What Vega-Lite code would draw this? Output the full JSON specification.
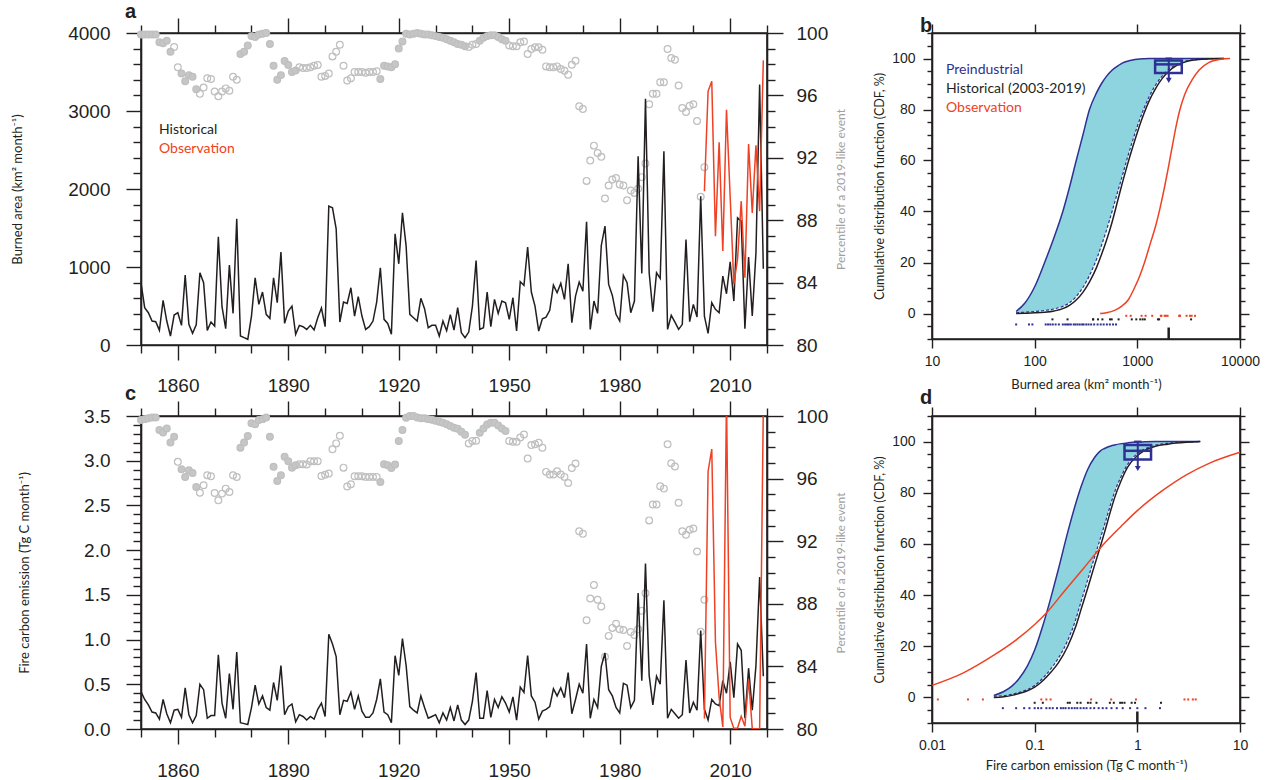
{
"$schema":"https://vega.github.io/schema/vega-lite/v6.json",
"padding":{"left":10,"top":1,"right":0,"bottom":0},
"background":"white",
"config":{
 "font":"Liberation Sans",
 "view":{"stroke":"#231f20","strokeWidth":1.6},
 "axis":{"domainColor":"#231f20","domainWidth":1.6,"tickColor":"#231f20","tickWidth":1.4,"labelColor":"#231f20","labelFont":"Liberation Sans","titleFont":"Lato","titleFontWeight":"normal","titleColor":"#231f20","grid":false,"labelFlush":false,"labelOverlap":false},
 "title":{"font":"Liberation Sans","fontWeight":"bold","fontSize":20,"color":"#231f20","anchor":"start","frame":"group"}
},
"datasets":{
"la":[
{"t":1850,"s":"H","v":798},{"t":1851,"s":"H","v":478},{"t":1852,"s":"H","v":414},{"t":1853,"s":"H","v":307},{"t":1854,"s":"H","v":299},{"t":1855,"s":"H","v":188},{"t":1856,"s":"H","v":572},{"t":1857,"s":"H","v":307},{"t":1858,"s":"H","v":115},{"t":1859,"s":"H","v":384},
{"t":1860,"s":"H","v":414},{"t":1861,"s":"H","v":252},{"t":1862,"s":"H","v":896},{"t":1863,"s":"H","v":265},{"t":1864,"s":"H","v":149},{"t":1865,"s":"H","v":260},{"t":1866,"s":"H","v":926},{"t":1867,"s":"H","v":798},{"t":1868,"s":"H","v":188},{"t":1869,"s":"H","v":294},
{"t":1870,"s":"H","v":243},{"t":1871,"s":"H","v":1387},{"t":1872,"s":"H","v":491},{"t":1873,"s":"H","v":209},{"t":1874,"s":"H","v":1024},{"t":1875,"s":"H","v":405},{"t":1876,"s":"H","v":1618},{"t":1877,"s":"H","v":115},{"t":1878,"s":"H","v":94},{"t":1879,"s":"H","v":73},
{"t":1880,"s":"H","v":371},{"t":1881,"s":"H","v":862},{"t":1882,"s":"H","v":521},{"t":1883,"s":"H","v":679},{"t":1884,"s":"H","v":393},{"t":1885,"s":"H","v":341},{"t":1886,"s":"H","v":862},{"t":1887,"s":"H","v":542},{"t":1888,"s":"H","v":1191},{"t":1889,"s":"H","v":277},
{"t":1890,"s":"H","v":435},{"t":1891,"s":"H","v":499},{"t":1892,"s":"H","v":137},{"t":1893,"s":"H","v":252},{"t":1894,"s":"H","v":235},{"t":1895,"s":"H","v":200},{"t":1896,"s":"H","v":252},{"t":1897,"s":"H","v":192},{"t":1898,"s":"H","v":350},{"t":1899,"s":"H","v":474},
{"t":1900,"s":"H","v":235},{"t":1901,"s":"H","v":1780},{"t":1902,"s":"H","v":1758},{"t":1903,"s":"H","v":1490},{"t":1904,"s":"H","v":294},{"t":1905,"s":"H","v":550},{"t":1906,"s":"H","v":533},{"t":1907,"s":"H","v":734},{"t":1908,"s":"H","v":371},{"t":1909,"s":"H","v":619},
{"t":1910,"s":"H","v":371},{"t":1911,"s":"H","v":200},{"t":1912,"s":"H","v":235},{"t":1913,"s":"H","v":307},{"t":1914,"s":"H","v":550},{"t":1915,"s":"H","v":990},{"t":1916,"s":"H","v":329},{"t":1917,"s":"H","v":277},{"t":1918,"s":"H","v":137},{"t":1919,"s":"H","v":1425},
{"t":1920,"s":"H","v":1041},{"t":1921,"s":"H","v":1694},{"t":1922,"s":"H","v":1268},{"t":1923,"s":"H","v":393},{"t":1924,"s":"H","v":350},{"t":1925,"s":"H","v":307},{"t":1926,"s":"H","v":598},{"t":1927,"s":"H","v":465},{"t":1928,"s":"H","v":222},{"t":1929,"s":"H","v":252},
{"t":1930,"s":"H","v":252},{"t":1931,"s":"H","v":115},{"t":1932,"s":"H","v":307},{"t":1933,"s":"H","v":183},{"t":1934,"s":"H","v":390},{"t":1935,"s":"H","v":192},{"t":1936,"s":"H","v":478},{"t":1937,"s":"H","v":158},{"t":1938,"s":"H","v":94},{"t":1939,"s":"H","v":166},
{"t":1940,"s":"H","v":499},{"t":1941,"s":"H","v":1084},{"t":1942,"s":"H","v":200},{"t":1943,"s":"H","v":222},{"t":1944,"s":"H","v":679},{"t":1945,"s":"H","v":235},{"t":1946,"s":"H","v":585},{"t":1947,"s":"H","v":405},{"t":1948,"s":"H","v":563},{"t":1949,"s":"H","v":542},
{"t":1950,"s":"H","v":329},{"t":1951,"s":"H","v":606},{"t":1952,"s":"H","v":179},{"t":1953,"s":"H","v":811},{"t":1954,"s":"H","v":764},{"t":1955,"s":"H","v":1255},{"t":1956,"s":"H","v":679},{"t":1957,"s":"H","v":499},{"t":1958,"s":"H","v":179},{"t":1959,"s":"H","v":337},
{"t":1960,"s":"H","v":358},{"t":1961,"s":"H","v":444},{"t":1962,"s":"H","v":768},{"t":1963,"s":"H","v":670},{"t":1964,"s":"H","v":790},{"t":1965,"s":"H","v":585},{"t":1966,"s":"H","v":1041},{"t":1967,"s":"H","v":286},{"t":1968,"s":"H","v":627},{"t":1969,"s":"H","v":807},
{"t":1970,"s":"H","v":691},{"t":1971,"s":"H","v":1579},{"t":1972,"s":"H","v":200},{"t":1973,"s":"H","v":563},{"t":1974,"s":"H","v":405},{"t":1975,"s":"H","v":1276},{"t":1976,"s":"H","v":1524},{"t":1977,"s":"H","v":777},{"t":1978,"s":"H","v":636},{"t":1979,"s":"H","v":393},
{"t":1980,"s":"H","v":307},{"t":1981,"s":"H","v":892},{"t":1982,"s":"H","v":798},{"t":1983,"s":"H","v":414},{"t":1984,"s":"H","v":563},{"t":1985,"s":"H","v":2420},{"t":1986,"s":"H","v":918},{"t":1987,"s":"H","v":3158},{"t":1988,"s":"H","v":926},{"t":1989,"s":"H","v":427},
{"t":1990,"s":"H","v":926},{"t":1991,"s":"H","v":854},{"t":1992,"s":"H","v":2484},{"t":1993,"s":"H","v":200},{"t":1994,"s":"H","v":380},{"t":1995,"s":"H","v":294},{"t":1996,"s":"H","v":200},{"t":1997,"s":"H","v":265},{"t":1998,"s":"H","v":1353},{"t":1999,"s":"H","v":299},
{"t":2000,"s":"H","v":521},{"t":2001,"s":"H","v":358},{"t":2002,"s":"H","v":1908},{"t":2003,"s":"H","v":371},{"t":2004,"s":"H","v":149},{"t":2005,"s":"H","v":542},{"t":2006,"s":"H","v":457},{"t":2007,"s":"H","v":414},{"t":2008,"s":"H","v":883},{"t":2009,"s":"H","v":657},
{"t":2010,"s":"H","v":1067},{"t":2011,"s":"H","v":563},{"t":2012,"s":"H","v":1630},{"t":2013,"s":"H","v":1588},{"t":2014,"s":"H","v":209},{"t":2015,"s":"H","v":1127},{"t":2016,"s":"H","v":371},{"t":2017,"s":"H","v":1182},{"t":2018,"s":"H","v":3338},{"t":2019,"s":"H","v":977},
{"t":2003,"s":"O","v":1972},{"t":2004,"s":"O","v":3252},{"t":2005,"s":"O","v":3380},{"t":2006,"s":"O","v":1396},{"t":2007,"s":"O","v":2599},{"t":2008,"s":"O","v":1204},{"t":2009,"s":"O","v":3017},{"t":2010,"s":"O","v":1900},{"t":2011,"s":"O","v":780},{"t":2012,"s":"O","v":1100},{"t":2013,"s":"O","v":1844},{"t":2014,"s":"O","v":862},{"t":2015,"s":"O","v":2578},{"t":2016,"s":"O","v":1694},{"t":2017,"s":"O","v":2561},{"t":2018,"s":"O","v":1716},{"t":2019,"s":"O","v":3649}
],
"pa":[
{"t":1850,"p":99.9,"f":1},{"t":1851,"p":99.9,"f":1},{"t":1852,"p":99.9,"f":1},{"t":1853,"p":99.9,"f":1},{"t":1854,"p":99.9,"f":1},{"t":1855,"p":99.4,"f":1},{"t":1856,"p":99.35,"f":1},{"t":1857,"p":99.5,"f":1},{"t":1858,"p":98.8,"f":1},{"t":1859,"p":99.1,"f":0},
{"t":1860,"p":97.8,"f":0},{"t":1861,"p":97.4,"f":1},{"t":1862,"p":96.9,"f":1},{"t":1863,"p":97.3,"f":1},{"t":1864,"p":97.2,"f":1},{"t":1865,"p":96.4,"f":1},{"t":1866,"p":96.1,"f":0},{"t":1867,"p":96.5,"f":0},{"t":1868,"p":97.1,"f":0},{"t":1869,"p":97.05,"f":0},
{"t":1870,"p":96.25,"f":0},{"t":1871,"p":95.95,"f":0},{"t":1872,"p":96.25,"f":0},{"t":1873,"p":96.45,"f":0},{"t":1874,"p":96.3,"f":0},{"t":1875,"p":97.2,"f":0},{"t":1876,"p":97.0,"f":0},{"t":1877,"p":98.65,"f":1},{"t":1878,"p":98.8,"f":1},{"t":1879,"p":99.2,"f":1},
{"t":1880,"p":99.8,"f":1},{"t":1881,"p":99.75,"f":1},{"t":1882,"p":99.9,"f":1},{"t":1883,"p":99.95,"f":1},{"t":1884,"p":100,"f":1},{"t":1885,"p":99.3,"f":1},{"t":1886,"p":97.9,"f":1},{"t":1887,"p":97.0,"f":1},{"t":1888,"p":97.3,"f":1},{"t":1889,"p":98.2,"f":1},
{"t":1890,"p":97.95,"f":1},{"t":1891,"p":97.5,"f":1},{"t":1892,"p":97.6,"f":1},{"t":1893,"p":97.8,"f":0},{"t":1894,"p":97.75,"f":0},{"t":1895,"p":97.75,"f":0},{"t":1896,"p":97.8,"f":0},{"t":1897,"p":97.9,"f":0},{"t":1898,"p":97.95,"f":0},{"t":1899,"p":97.2,"f":0},
{"t":1900,"p":97.25,"f":0},{"t":1901,"p":97.4,"f":0},{"t":1902,"p":98.5,"f":0},{"t":1903,"p":98.8,"f":0},{"t":1904,"p":99.25,"f":0},{"t":1905,"p":97.9,"f":0},{"t":1906,"p":96.95,"f":0},{"t":1907,"p":97.1,"f":0},{"t":1908,"p":97.5,"f":0},{"t":1909,"p":97.5,"f":0},
{"t":1910,"p":97.5,"f":0},{"t":1911,"p":97.45,"f":0},{"t":1912,"p":97.5,"f":0},{"t":1913,"p":97.5,"f":0},{"t":1914,"p":97.55,"f":0},{"t":1915,"p":97.05,"f":1},{"t":1916,"p":97.9,"f":1},{"t":1917,"p":97.85,"f":1},{"t":1918,"p":97.8,"f":1},{"t":1919,"p":98.0,"f":1},
{"t":1920,"p":99.0,"f":1},{"t":1921,"p":99.45,"f":1},{"t":1922,"p":99.95,"f":1},{"t":1923,"p":99.9,"f":1},{"t":1924,"p":99.95,"f":1},{"t":1925,"p":100,"f":1},{"t":1926,"p":99.95,"f":1},{"t":1927,"p":99.9,"f":1},{"t":1928,"p":99.9,"f":1},{"t":1929,"p":99.85,"f":1},
{"t":1930,"p":99.8,"f":1},{"t":1931,"p":99.75,"f":1},{"t":1932,"p":99.7,"f":1},{"t":1933,"p":99.6,"f":1},{"t":1934,"p":99.5,"f":1},{"t":1935,"p":99.4,"f":1},{"t":1936,"p":99.3,"f":1},{"t":1937,"p":99.25,"f":1},{"t":1938,"p":99.15,"f":1},{"t":1939,"p":99.1,"f":0},
{"t":1940,"p":99.25,"f":0},{"t":1941,"p":99.3,"f":0},{"t":1942,"p":99.5,"f":1},{"t":1943,"p":99.7,"f":1},{"t":1944,"p":99.8,"f":1},{"t":1945,"p":99.85,"f":1},{"t":1946,"p":99.85,"f":1},{"t":1947,"p":99.75,"f":1},{"t":1948,"p":99.6,"f":1},{"t":1949,"p":99.5,"f":1},
{"t":1950,"p":99.2,"f":0},{"t":1951,"p":99.15,"f":0},{"t":1952,"p":99.15,"f":0},{"t":1953,"p":99.4,"f":0},{"t":1954,"p":99.45,"f":0},{"t":1955,"p":98.65,"f":0},{"t":1956,"p":98.97,"f":0},{"t":1957,"p":99.08,"f":0},{"t":1958,"p":99.08,"f":0},{"t":1959,"p":98.93,"f":0},
{"t":1960,"p":97.86,"f":0},{"t":1961,"p":97.8,"f":0},{"t":1962,"p":97.8,"f":0},{"t":1963,"p":97.86,"f":0},{"t":1964,"p":97.69,"f":0},{"t":1965,"p":97.58,"f":0},{"t":1966,"p":97.33,"f":0},{"t":1967,"p":97.97,"f":0},{"t":1968,"p":98.22,"f":0},{"t":1969,"p":95.3,"f":0},
{"t":1970,"p":95.13,"f":0},{"t":1971,"p":90.52,"f":0},{"t":1972,"p":91.82,"f":0},{"t":1973,"p":92.78,"f":0},{"t":1974,"p":92.31,"f":0},{"t":1975,"p":92.06,"f":0},{"t":1976,"p":89.39,"f":0},{"t":1977,"p":90.22,"f":0},{"t":1978,"p":90.61,"f":0},{"t":1979,"p":90.71,"f":0},
{"t":1980,"p":90.29,"f":0},{"t":1981,"p":90.22,"f":0},{"t":1982,"p":89.28,"f":0},{"t":1983,"p":89.9,"f":0},{"t":1984,"p":89.75,"f":0},{"t":1985,"p":90.01,"f":0},{"t":1986,"p":90.76,"f":0},{"t":1987,"p":91.63,"f":0},{"t":1988,"p":95.43,"f":0},{"t":1989,"p":96.11,"f":0},
{"t":1990,"p":96.11,"f":0},{"t":1991,"p":96.84,"f":0},{"t":1992,"p":96.84,"f":0},{"t":1993,"p":98.97,"f":0},{"t":1994,"p":98.39,"f":0},{"t":1995,"p":98.29,"f":0},{"t":1996,"p":96.64,"f":0},{"t":1997,"p":95.19,"f":0},{"t":1998,"p":94.94,"f":0},{"t":1999,"p":95.34,"f":0},
{"t":2000,"p":95.43,"f":0},{"t":2001,"p":94.36,"f":0},{"t":2002,"p":89.5,"f":0},{"t":2003,"p":91.4,"f":0}
],
"lc":[
{"t":1850,"s":"H","v":0.42},{"t":1851,"s":"H","v":0.33},{"t":1852,"s":"H","v":0.27},{"t":1853,"s":"H","v":0.19},{"t":1854,"s":"H","v":0.18},{"t":1855,"s":"H","v":0.11},{"t":1856,"s":"H","v":0.33},{"t":1857,"s":"H","v":0.17},{"t":1858,"s":"H","v":0.07},{"t":1859,"s":"H","v":0.21},
{"t":1860,"s":"H","v":0.22},{"t":1861,"s":"H","v":0.13},{"t":1862,"s":"H","v":0.46},{"t":1863,"s":"H","v":0.16},{"t":1864,"s":"H","v":0.07},{"t":1865,"s":"H","v":0.15},{"t":1866,"s":"H","v":0.50},{"t":1867,"s":"H","v":0.44},{"t":1868,"s":"H","v":0.12},{"t":1869,"s":"H","v":0.15},
{"t":1870,"s":"H","v":0.15},{"t":1871,"s":"H","v":0.83},{"t":1872,"s":"H","v":0.29},{"t":1873,"s":"H","v":0.12},{"t":1874,"s":"H","v":0.62},{"t":1875,"s":"H","v":0.22},{"t":1876,"s":"H","v":0.86},{"t":1877,"s":"H","v":0.07},{"t":1878,"s":"H","v":0.06},{"t":1879,"s":"H","v":0.05},
{"t":1880,"s":"H","v":0.24},{"t":1881,"s":"H","v":0.49},{"t":1882,"s":"H","v":0.28},{"t":1883,"s":"H","v":0.37},{"t":1884,"s":"H","v":0.24},{"t":1885,"s":"H","v":0.21},{"t":1886,"s":"H","v":0.52},{"t":1887,"s":"H","v":0.32},{"t":1888,"s":"H","v":0.71},{"t":1889,"s":"H","v":0.16},
{"t":1890,"s":"H","v":0.25},{"t":1891,"s":"H","v":0.28},{"t":1892,"s":"H","v":0.08},{"t":1893,"s":"H","v":0.16},{"t":1894,"s":"H","v":0.14},{"t":1895,"s":"H","v":0.10},{"t":1896,"s":"H","v":0.14},{"t":1897,"s":"H","v":0.11},{"t":1898,"s":"H","v":0.22},{"t":1899,"s":"H","v":0.29},
{"t":1900,"s":"H","v":0.14},{"t":1901,"s":"H","v":1.06},{"t":1902,"s":"H","v":0.95},{"t":1903,"s":"H","v":0.81},{"t":1904,"s":"H","v":0.16},{"t":1905,"s":"H","v":0.32},{"t":1906,"s":"H","v":0.31},{"t":1907,"s":"H","v":0.41},{"t":1908,"s":"H","v":0.22},{"t":1909,"s":"H","v":0.37},
{"t":1910,"s":"H","v":0.20},{"t":1911,"s":"H","v":0.13},{"t":1912,"s":"H","v":0.13},{"t":1913,"s":"H","v":0.18},{"t":1914,"s":"H","v":0.33},{"t":1915,"s":"H","v":0.56},{"t":1916,"s":"H","v":0.19},{"t":1917,"s":"H","v":0.16},{"t":1918,"s":"H","v":0.07},{"t":1919,"s":"H","v":0.82},
{"t":1920,"s":"H","v":0.60},{"t":1921,"s":"H","v":1.01},{"t":1922,"s":"H","v":0.71},{"t":1923,"s":"H","v":0.25},{"t":1924,"s":"H","v":0.21},{"t":1925,"s":"H","v":0.18},{"t":1926,"s":"H","v":0.37},{"t":1927,"s":"H","v":0.24},{"t":1928,"s":"H","v":0.12},{"t":1929,"s":"H","v":0.14},
{"t":1930,"s":"H","v":0.16},{"t":1931,"s":"H","v":0.07},{"t":1932,"s":"H","v":0.18},{"t":1933,"s":"H","v":0.10},{"t":1934,"s":"H","v":0.24},{"t":1935,"s":"H","v":0.09},{"t":1936,"s":"H","v":0.27},{"t":1937,"s":"H","v":0.10},{"t":1938,"s":"H","v":0.05},{"t":1939,"s":"H","v":0.10},
{"t":1940,"s":"H","v":0.31},{"t":1941,"s":"H","v":0.63},{"t":1942,"s":"H","v":0.12},{"t":1943,"s":"H","v":0.12},{"t":1944,"s":"H","v":0.43},{"t":1945,"s":"H","v":0.13},{"t":1946,"s":"H","v":0.33},{"t":1947,"s":"H","v":0.24},{"t":1948,"s":"H","v":0.36},{"t":1949,"s":"H","v":0.29},
{"t":1950,"s":"H","v":0.19},{"t":1951,"s":"H","v":0.36},{"t":1952,"s":"H","v":0.10},{"t":1953,"s":"H","v":0.47},{"t":1954,"s":"H","v":0.41},{"t":1955,"s":"H","v":0.82},{"t":1956,"s":"H","v":0.37},{"t":1957,"s":"H","v":0.30},{"t":1958,"s":"H","v":0.11},{"t":1959,"s":"H","v":0.20},
{"t":1960,"s":"H","v":0.22},{"t":1961,"s":"H","v":0.25},{"t":1962,"s":"H","v":0.45},{"t":1963,"s":"H","v":0.37},{"t":1964,"s":"H","v":0.46},{"t":1965,"s":"H","v":0.35},{"t":1966,"s":"H","v":0.63},{"t":1967,"s":"H","v":0.17},{"t":1968,"s":"H","v":0.33},{"t":1969,"s":"H","v":0.50},
{"t":1970,"s":"H","v":0.40},{"t":1971,"s":"H","v":0.95},{"t":1972,"s":"H","v":0.12},{"t":1973,"s":"H","v":0.33},{"t":1974,"s":"H","v":0.24},{"t":1975,"s":"H","v":0.70},{"t":1976,"s":"H","v":0.85},{"t":1977,"s":"H","v":0.44},{"t":1978,"s":"H","v":0.37},{"t":1979,"s":"H","v":0.24},
{"t":1980,"s":"H","v":0.18},{"t":1981,"s":"H","v":0.51},{"t":1982,"s":"H","v":0.49},{"t":1983,"s":"H","v":0.24},{"t":1984,"s":"H","v":0.32},{"t":1985,"s":"H","v":1.52},{"t":1986,"s":"H","v":0.54},{"t":1987,"s":"H","v":1.85},{"t":1988,"s":"H","v":0.60},{"t":1989,"s":"H","v":0.27},
{"t":1990,"s":"H","v":0.59},{"t":1991,"s":"H","v":0.50},{"t":1992,"s":"H","v":1.44},{"t":1993,"s":"H","v":0.12},{"t":1994,"s":"H","v":0.22},{"t":1995,"s":"H","v":0.17},{"t":1996,"s":"H","v":0.12},{"t":1997,"s":"H","v":0.16},{"t":1998,"s":"H","v":0.77},{"t":1999,"s":"H","v":0.18},
{"t":2000,"s":"H","v":0.30},{"t":2001,"s":"H","v":0.21},{"t":2002,"s":"H","v":1.10},{"t":2003,"s":"H","v":0.22},{"t":2004,"s":"H","v":0.10},{"t":2005,"s":"H","v":0.33},{"t":2006,"s":"H","v":0.28},{"t":2007,"s":"H","v":0.26},{"t":2008,"s":"H","v":0.54},{"t":2009,"s":"H","v":0.40},
{"t":2010,"s":"H","v":0.75},{"t":2011,"s":"H","v":0.35},{"t":2012,"s":"H","v":0.95},{"t":2013,"s":"H","v":0.88},{"t":2014,"s":"H","v":0.12},{"t":2015,"s":"H","v":0.68},{"t":2016,"s":"H","v":0.21},{"t":2017,"s":"H","v":0.71},{"t":2018,"s":"H","v":1.70},{"t":2019,"s":"H","v":0.59},
{"t":2003,"s":"O","v":0.116},{"t":2004,"s":"O","v":2.88},{"t":2005,"s":"O","v":3.13},{"t":2006,"s":"O","v":0.97},{"t":2007,"s":"O","v":0.355},{"t":2008,"s":"O","v":0.0224},{"t":2009,"s":"O","v":3.7},{"t":2010,"s":"O","v":0.13},{"t":2011,"s":"O","v":0.005},{"t":2012,"s":"O","v":0.0114},{"t":2013,"s":"O","v":0.143},{"t":2014,"s":"O","v":0.0313},{"t":2015,"s":"O","v":0.556},{"t":2016,"s":"O","v":0.005},{"t":2017,"s":"O","v":0.004},{"t":2018,"s":"O","v":0.006},{"t":2019,"s":"O","v":3.6}
],
"pc":[
{"t":1850,"p":99.74,"f":1},{"t":1851,"p":99.8,"f":1},{"t":1852,"p":99.85,"f":1},{"t":1853,"p":99.9,"f":1},{"t":1854,"p":99.9,"f":1},{"t":1855,"p":99.1,"f":1},{"t":1856,"p":98.95,"f":1},{"t":1857,"p":99.2,"f":1},{"t":1858,"p":98.3,"f":1},{"t":1859,"p":98.67,"f":1},
{"t":1860,"p":97.07,"f":0},{"t":1861,"p":96.6,"f":1},{"t":1862,"p":96.1,"f":1},{"t":1863,"p":96.53,"f":1},{"t":1864,"p":96.36,"f":1},{"t":1865,"p":95.46,"f":1},{"t":1866,"p":95.1,"f":0},{"t":1867,"p":95.57,"f":0},{"t":1868,"p":96.21,"f":0},{"t":1869,"p":96.15,"f":0},
{"t":1870,"p":95.08,"f":0},{"t":1871,"p":94.61,"f":0},{"t":1872,"p":95.04,"f":0},{"t":1873,"p":95.36,"f":0},{"t":1874,"p":95.14,"f":0},{"t":1875,"p":96.21,"f":0},{"t":1876,"p":96.1,"f":0},{"t":1877,"p":97.97,"f":1},{"t":1878,"p":98.31,"f":1},{"t":1879,"p":98.72,"f":1},
{"t":1880,"p":99.53,"f":1},{"t":1881,"p":99.47,"f":1},{"t":1882,"p":99.74,"f":1},{"t":1883,"p":99.8,"f":1},{"t":1884,"p":99.9,"f":1},{"t":1885,"p":98.67,"f":1},{"t":1886,"p":96.75,"f":1},{"t":1887,"p":95.85,"f":1},{"t":1888,"p":96.21,"f":1},{"t":1889,"p":97.39,"f":1},
{"t":1890,"p":97.11,"f":1},{"t":1891,"p":96.7,"f":1},{"t":1892,"p":96.86,"f":1},{"t":1893,"p":96.92,"f":0},{"t":1894,"p":96.92,"f":0},{"t":1895,"p":96.9,"f":0},{"t":1896,"p":97.11,"f":0},{"t":1897,"p":97.11,"f":0},{"t":1898,"p":97.11,"f":0},{"t":1899,"p":96.17,"f":0},
{"t":1900,"p":96.25,"f":0},{"t":1901,"p":96.32,"f":0},{"t":1902,"p":97.88,"f":0},{"t":1903,"p":98.25,"f":0},{"t":1904,"p":98.74,"f":0},{"t":1905,"p":96.7,"f":0},{"t":1906,"p":95.5,"f":0},{"t":1907,"p":95.64,"f":0},{"t":1908,"p":96.15,"f":0},{"t":1909,"p":96.15,"f":0},
{"t":1910,"p":96.15,"f":0},{"t":1911,"p":96.11,"f":0},{"t":1912,"p":96.11,"f":0},{"t":1913,"p":96.11,"f":0},{"t":1914,"p":96.11,"f":0},{"t":1915,"p":95.79,"f":1},{"t":1916,"p":96.92,"f":1},{"t":1917,"p":96.86,"f":1},{"t":1918,"p":96.68,"f":1},{"t":1919,"p":96.9,"f":1},
{"t":1920,"p":98.4,"f":1},{"t":1921,"p":99.1,"f":1},{"t":1922,"p":99.89,"f":1},{"t":1923,"p":100,"f":1},{"t":1924,"p":100,"f":1},{"t":1925,"p":99.9,"f":1},{"t":1926,"p":99.85,"f":1},{"t":1927,"p":99.85,"f":1},{"t":1928,"p":99.8,"f":1},{"t":1929,"p":99.76,"f":1},
{"t":1930,"p":99.7,"f":1},{"t":1931,"p":99.64,"f":1},{"t":1932,"p":99.57,"f":1},{"t":1933,"p":99.47,"f":1},{"t":1934,"p":99.36,"f":1},{"t":1935,"p":99.25,"f":1},{"t":1936,"p":99.19,"f":1},{"t":1937,"p":99.0,"f":1},{"t":1938,"p":98.8,"f":1},{"t":1939,"p":98.25,"f":0},
{"t":1940,"p":98.4,"f":0},{"t":1941,"p":98.42,"f":0},{"t":1942,"p":98.93,"f":1},{"t":1943,"p":99.2,"f":1},{"t":1944,"p":99.45,"f":1},{"t":1945,"p":99.57,"f":1},{"t":1946,"p":99.57,"f":1},{"t":1947,"p":99.4,"f":1},{"t":1948,"p":99.2,"f":1},{"t":1949,"p":99.04,"f":1},
{"t":1950,"p":98.4,"f":0},{"t":1951,"p":98.35,"f":0},{"t":1952,"p":98.35,"f":0},{"t":1953,"p":98.63,"f":0},{"t":1954,"p":98.82,"f":0},{"t":1955,"p":97.28,"f":0},{"t":1956,"p":98.14,"f":0},{"t":1957,"p":98.2,"f":0},{"t":1958,"p":98.29,"f":0},{"t":1959,"p":97.97,"f":0},
{"t":1960,"p":96.43,"f":0},{"t":1961,"p":96.26,"f":0},{"t":1962,"p":96.26,"f":0},{"t":1963,"p":96.47,"f":0},{"t":1964,"p":96.26,"f":0},{"t":1965,"p":96.11,"f":0},{"t":1966,"p":95.72,"f":0},{"t":1967,"p":96.68,"f":0},{"t":1968,"p":96.96,"f":0},{"t":1969,"p":92.64,"f":0},
{"t":1970,"p":92.47,"f":0},{"t":1971,"p":86.95,"f":0},{"t":1972,"p":88.34,"f":0},{"t":1973,"p":89.2,"f":0},{"t":1974,"p":88.26,"f":0},{"t":1975,"p":87.83,"f":0},{"t":1976,"p":84.62,"f":0},{"t":1977,"p":85.95,"f":0},{"t":1978,"p":86.46,"f":0},{"t":1979,"p":86.72,"f":0},
{"t":1980,"p":86.37,"f":0},{"t":1981,"p":86.33,"f":0},{"t":1982,"p":85.3,"f":0},{"t":1983,"p":86.2,"f":0},{"t":1984,"p":86.01,"f":0},{"t":1985,"p":86.37,"f":0},{"t":1986,"p":87.55,"f":0},{"t":1987,"p":88.68,"f":0},{"t":1988,"p":93.33,"f":0},{"t":1989,"p":94.35,"f":0},
{"t":1990,"p":94.35,"f":0},{"t":1991,"p":95.51,"f":0},{"t":1992,"p":95.36,"f":0},{"t":1993,"p":98.2,"f":0},{"t":1994,"p":96.98,"f":0},{"t":1995,"p":96.77,"f":0},{"t":1996,"p":94.46,"f":0},{"t":1997,"p":92.64,"f":0},{"t":1998,"p":92.41,"f":0},{"t":1999,"p":92.73,"f":0},
{"t":2000,"p":92.81,"f":0},{"t":2001,"p":91.34,"f":0},{"t":2002,"p":86.22,"f":0},{"t":2003,"p":88.26,"f":0}
],
"bandB":[
{"x":66,"pre":0.8,"hd":0.3},{"x":80,"pre":4,"hd":0.5},{"x":100,"pre":10.5,"hd":0.8},{"x":125,"pre":20,"hd":1.2},{"x":155,"pre":30,"hd":1.8},{"x":188,"pre":40,"hd":2.8},{"x":220,"pre":50,"hd":4.3},{"x":254,"pre":60,"hd":6.7},{"x":295,"pre":70,"hd":10.2},{"x":342,"pre":80,"hd":14.9},
{"x":400,"pre":86.5,"hd":21.2},{"x":445,"pre":90,"hd":26.4},{"x":500,"pre":93,"hd":32.6},{"x":570,"pre":95.5,"hd":40.3},{"x":650,"pre":97.2,"hd":48.3},{"x":720,"pre":98.3,"hd":54.5},{"x":800,"pre":98.9,"hd":61},{"x":900,"pre":99.4,"hd":67.8},{"x":1000,"pre":99.7,"hd":73.4},{"x":1150,"pre":99.9,"hd":80},
{"x":1300,"pre":100,"hd":84.9},{"x":1500,"pre":100,"hd":89.5},{"x":1750,"pre":100,"hd":93.2},{"x":2000,"pre":100,"hd":95.5},{"x":2400,"pre":100,"hd":97.6},{"x":2800,"pre":100,"hd":98.7},{"x":3400,"pre":100,"hd":99.4},{"x":4000,"pre":100,"hd":99.7},{"x":5500,"pre":100,"hd":99.95},{"x":7000,"pre":100,"hd":100}
],
"cdfB":[
{"k":"Historical (2003-2019)","x":66,"c":0},{"k":"Historical (2003-2019)","x":80,"c":0.1},{"k":"Historical (2003-2019)","x":100,"c":0.25},{"k":"Historical (2003-2019)","x":125,"c":0.5},{"k":"Historical (2003-2019)","x":155,"c":1.0},{"k":"Historical (2003-2019)","x":188,"c":1.9},{"k":"Historical (2003-2019)","x":220,"c":3.3},{"k":"Historical (2003-2019)","x":254,"c":5.3},{"k":"Historical (2003-2019)","x":295,"c":8.3},{"k":"Historical (2003-2019)","x":342,"c":12.4},
{"k":"Historical (2003-2019)","x":400,"c":18},{"k":"Historical (2003-2019)","x":445,"c":22.8},{"k":"Historical (2003-2019)","x":500,"c":28.6},{"k":"Historical (2003-2019)","x":570,"c":36.1},{"k":"Historical (2003-2019)","x":650,"c":44.9},{"k":"Historical (2003-2019)","x":720,"c":51.7},{"k":"Historical (2003-2019)","x":800,"c":58.3},{"k":"Historical (2003-2019)","x":900,"c":65.2},{"k":"Historical (2003-2019)","x":1000,"c":71},{"k":"Historical (2003-2019)","x":1150,"c":78},
{"k":"Historical (2003-2019)","x":1300,"c":83.3},{"k":"Historical (2003-2019)","x":1500,"c":88.1},{"k":"Historical (2003-2019)","x":1750,"c":92.2},{"k":"Historical (2003-2019)","x":2000,"c":94.8},{"k":"Historical (2003-2019)","x":2400,"c":97.2},{"k":"Historical (2003-2019)","x":2800,"c":98.4},{"k":"Historical (2003-2019)","x":3400,"c":99.3},{"k":"Historical (2003-2019)","x":4000,"c":99.65},{"k":"Historical (2003-2019)","x":5500,"c":99.93},{"k":"Historical (2003-2019)","x":7000,"c":100},
{"k":"Observation","x":434,"c":0},{"k":"Observation","x":500,"c":0.3},{"k":"Observation","x":600,"c":1.2},{"k":"Observation","x":700,"c":2.8},{"k":"Observation","x":820,"c":5.5},{"k":"Observation","x":937,"c":10},{"k":"Observation","x":1050,"c":14.5},{"k":"Observation","x":1175,"c":20},{"k":"Observation","x":1350,"c":28},{"k":"Observation","x":1500,"c":34},{"k":"Observation","x":1700,"c":43},
{"k":"Observation","x":1850,"c":50},{"k":"Observation","x":2000,"c":57},{"k":"Observation","x":2200,"c":66},{"k":"Observation","x":2400,"c":74},{"k":"Observation","x":2600,"c":80},{"k":"Observation","x":2900,"c":86},{"k":"Observation","x":3460,"c":92},{"k":"Observation","x":4000,"c":95.5},{"k":"Observation","x":5000,"c":98.5},{"k":"Observation","x":6500,"c":99.7},{"k":"Observation","x":8000,"c":100}
],
"boxB":[{"lo":1490,"hi":2710,"q1":94.3,"q3":99.2,"med":97.7,"w":2024,"wlo":91.4,"whi":100,"clo":1880,"chi":2180,"ev":2020}],
"rugB":[
{"k":"O","x":1972},{"k":"O","x":3252},{"k":"O","x":3380},{"k":"O","x":1396},{"k":"O","x":2599},{"k":"O","x":1204},{"k":"O","x":3017},{"k":"O","x":1900},{"k":"O","x":780},{"k":"O","x":1100},{"k":"O","x":1844},{"k":"O","x":862},{"k":"O","x":2578},{"k":"O","x":1694},{"k":"O","x":2561},{"k":"O","x":1716},{"k":"O","x":3649},
{"k":"H","x":371},{"k":"H","x":149},{"k":"H","x":542},{"k":"H","x":457},{"k":"H","x":414},{"k":"H","x":883},{"k":"H","x":657},{"k":"H","x":1067},{"k":"H","x":563},{"k":"H","x":1630},{"k":"H","x":1588},{"k":"H","x":209},{"k":"H","x":1127},{"k":"H","x":371},{"k":"H","x":1182},{"k":"H","x":3338},{"k":"H","x":977},
{"k":"P","x":66},{"k":"P","x":88},{"k":"P","x":95},{"k":"P","x":128},{"k":"P","x":135},{"k":"P","x":142},{"k":"P","x":150},{"k":"P","x":160},{"k":"P","x":172},{"k":"P","x":188},{"k":"P","x":198},{"k":"P","x":207},{"k":"P","x":215},{"k":"P","x":225},{"k":"P","x":240},{"k":"P","x":250},{"k":"P","x":262},{"k":"P","x":275},{"k":"P","x":290},{"k":"P","x":300},{"k":"P","x":318},{"k":"P","x":335},{"k":"P","x":355},{"k":"P","x":380},{"k":"P","x":410},{"k":"P","x":440},{"k":"P","x":470},{"k":"P","x":505},{"k":"P","x":540},{"k":"P","x":580},{"k":"P","x":620}
],
"bandD":[
{"x":0.04,"pre":0.8,"hd":0.5},{"x":0.05,"pre":2.3,"hd":0.7},{"x":0.06,"pre":4.4,"hd":1.2},{"x":0.07,"pre":7.2,"hd":1.9},{"x":0.085,"pre":12.3,"hd":3.1},{"x":0.1,"pre":18.5,"hd":4.7},{"x":0.12,"pre":28,"hd":7.5},{"x":0.145,"pre":39.5,"hd":11.4},{"x":0.17,"pre":50,"hd":15.3},{"x":0.21,"pre":64.6,"hd":22.3},
{"x":0.25,"pre":75.5,"hd":30.2},{"x":0.284,"pre":82.5,"hd":37.6},{"x":0.33,"pre":89.3,"hd":46.2},{"x":0.383,"pre":93.8,"hd":54.8},{"x":0.44,"pre":96.5,"hd":62.6},{"x":0.479,"pre":97.3,"hd":67.4},{"x":0.55,"pre":98.3,"hd":75.5},{"x":0.6,"pre":98.7,"hd":80.2},{"x":0.7,"pre":99.2,"hd":86.6},{"x":0.81,"pre":99.5,"hd":91.3},
{"x":1.0,"pre":99.8,"hd":95.3},{"x":1.17,"pre":99.9,"hd":97},{"x":1.5,"pre":100,"hd":98.6},{"x":1.98,"pre":100,"hd":99.3},{"x":3.0,"pre":100,"hd":99.8},{"x":4.1,"pre":100,"hd":100}
],
"cdfD":[
{"k":"Historical (2003-2019)","x":0.04,"c":0},{"k":"Historical (2003-2019)","x":0.05,"c":0.3},{"k":"Historical (2003-2019)","x":0.06,"c":0.8},{"k":"Historical (2003-2019)","x":0.07,"c":1.5},{"k":"Historical (2003-2019)","x":0.085,"c":2.6},{"k":"Historical (2003-2019)","x":0.1,"c":4},{"k":"Historical (2003-2019)","x":0.12,"c":6.5},{"k":"Historical (2003-2019)","x":0.145,"c":10},{"k":"Historical (2003-2019)","x":0.17,"c":13.5},{"k":"Historical (2003-2019)","x":0.21,"c":20},
{"k":"Historical (2003-2019)","x":0.25,"c":27.5},{"k":"Historical (2003-2019)","x":0.284,"c":34.6},{"k":"Historical (2003-2019)","x":0.33,"c":43},{"k":"Historical (2003-2019)","x":0.383,"c":51.6},{"k":"Historical (2003-2019)","x":0.44,"c":59.5},{"k":"Historical (2003-2019)","x":0.479,"c":64.5},{"k":"Historical (2003-2019)","x":0.55,"c":73},{"k":"Historical (2003-2019)","x":0.6,"c":78},{"k":"Historical (2003-2019)","x":0.7,"c":85},{"k":"Historical (2003-2019)","x":0.81,"c":90.2},
{"k":"Historical (2003-2019)","x":1.0,"c":94.5},{"k":"Historical (2003-2019)","x":1.17,"c":96.5},{"k":"Historical (2003-2019)","x":1.5,"c":98.2},{"k":"Historical (2003-2019)","x":1.98,"c":99},{"k":"Historical (2003-2019)","x":3.0,"c":99.7},{"k":"Historical (2003-2019)","x":4.1,"c":100},
{"k":"Observation","x":0.01,"c":4.7},{"k":"Observation","x":0.02,"c":9.5},{"k":"Observation","x":0.04,"c":16.5},{"k":"Observation","x":0.0637,"c":22},{"k":"Observation","x":0.1,"c":28.5},{"k":"Observation","x":0.13,"c":33},{"k":"Observation","x":0.19,"c":41},{"k":"Observation","x":0.3,"c":50.5},{"k":"Observation","x":0.46,"c":59.5},{"k":"Observation","x":0.7,"c":67},{"k":"Observation","x":1.0,"c":73},{"k":"Observation","x":1.71,"c":80.5},{"k":"Observation","x":3,"c":87},{"k":"Observation","x":5,"c":91.5},{"k":"Observation","x":10,"c":95.8}
],
"boxD":[{"lo":0.75,"hi":1.36,"q1":93,"q3":98.7,"med":96.4,"w":1.01,"wlo":89.5,"whi":100,"clo":0.93,"chi":1.1,"ev":1.0}],
"rugD":[
{"k":"O","x":0.116},{"k":"O","x":2.88},{"k":"O","x":3.13},{"k":"O","x":0.97},{"k":"O","x":0.355},{"k":"O","x":0.0224},{"k":"O","x":3.7},{"k":"O","x":0.13},{"k":"O","x":0.005},{"k":"O","x":0.0114},{"k":"O","x":0.143},{"k":"O","x":0.0313},{"k":"O","x":0.556},{"k":"O","x":0.005},{"k":"O","x":0.004},{"k":"O","x":0.006},{"k":"O","x":3.47},
{"k":"H","x":0.22},{"k":"H","x":0.10},{"k":"H","x":0.33},{"k":"H","x":0.28},{"k":"H","x":0.26},{"k":"H","x":0.54},{"k":"H","x":0.40},{"k":"H","x":0.75},{"k":"H","x":0.35},{"k":"H","x":0.95},{"k":"H","x":0.88},{"k":"H","x":0.12},{"k":"H","x":0.68},{"k":"H","x":0.21},{"k":"H","x":0.71},{"k":"H","x":1.70},{"k":"H","x":0.59},
{"k":"P","x":0.049},{"k":"P","x":0.066},{"k":"P","x":0.079},{"k":"P","x":0.089},{"k":"P","x":0.1},{"k":"P","x":0.108},{"k":"P","x":0.116},{"k":"P","x":0.13},{"k":"P","x":0.14},{"k":"P","x":0.15},{"k":"P","x":0.165},{"k":"P","x":0.18},{"k":"P","x":0.19},{"k":"P","x":0.2},{"k":"P","x":0.215},{"k":"P","x":0.23},{"k":"P","x":0.245},{"k":"P","x":0.26},{"k":"P","x":0.28},{"k":"P","x":0.3},{"k":"P","x":0.32},{"k":"P","x":0.35},{"k":"P","x":0.38},{"k":"P","x":0.42},{"k":"P","x":0.46},{"k":"P","x":0.5},{"k":"P","x":0.56},{"k":"P","x":0.63},{"k":"P","x":0.72},{"k":"P","x":0.85},{"k":"P","x":1.0},{"k":"P","x":1.2},{"k":"P","x":1.66}
]
},
"columns":2,
"spacing":{"row":71,"column":165},
"bounds":"flush",
"resolve":{"scale":{"color":"independent","x":"independent","y":"independent"},"legend":{"color":"independent"}},
"concat":[
{
 "width":626,"height":312,
 "title":{"text":"a","dx":-16,"offset":-5},
 "layer":[
  {"data":{"name":"pa"},
   "mark":{"type":"point","shape":"circle","size":46,"filled":true,"stroke":"#bfbfbf","strokeWidth":1.2,"opacity":1},
   "encoding":{
    "x":{"field":"t","type":"quantitative","scale":{"domain":[1850,2020],"nice":false,"zero":false},
     "axis":{"orient":"top","values":[1850,1860,1870,1880,1890,1900,1910,1920,1930,1940,1950,1960,1970,1980,1990,2000,2010,2020],"labels":false,"title":null,"tickSize":{"condition":{"test":"datum.value % 30 == 0","value":15},"value":8}}},
    "y":{"field":"p","type":"quantitative","scale":{"domain":[80,100],"nice":false,"zero":false},
     "axis":{"orient":"right","values":[80,81,82,83,84,85,86,87,88,89,90,91,92,93,94,95,96,97,98,99,100],"labelExpr":"datum.value % 4 == 0 ? datum.label : ''","tickSize":{"condition":{"test":"datum.value % 4 == 0","value":16},"value":8},"labelPadding":13,"labelFontSize":19,"title":"Percentile of a 2019-like event","titleColor":"#a0a0a0","titleFontSize":12,"titleAngle":270,"titleBaseline":"top","titlePadding":8}},
    "fill":{"condition":{"test":"datum.f == 1","value":"#c6c6c6"},"value":"transparent"}
   }},
  {"data":{"name":"la"},
   "mark":{"type":"line","strokeWidth":1.5,"clip":true},
   "encoding":{
    "x":{"field":"t","type":"quantitative","scale":{"domain":[1850,2020],"nice":false,"zero":false},
     "axis":{"orient":"bottom","values":[1850,1860,1870,1880,1890,1900,1910,1920,1930,1940,1950,1960,1970,1980,1990,2000,2010,2020],"format":"d","labelExpr":"datum.value % 30 == 0 ? datum.label : ''","tickSize":{"condition":{"test":"datum.value % 30 == 0","value":15},"value":8},"labelPadding":16,"labelFontSize":19,"title":null}},
    "y":{"field":"v","type":"quantitative","scale":{"domain":[0,4000],"nice":false,"zero":false},
     "axis":{"orient":"left","values":[0,200,400,600,800,1000,1200,1400,1600,1800,2000,2200,2400,2600,2800,3000,3200,3400,3600,3800,4000],"format":"d","labelExpr":"datum.value % 1000 == 0 ? datum.label : ''","tickSize":{"condition":{"test":"datum.value % 1000 == 0","value":15},"value":8},"labelPadding":16,"labelFontSize":19,"title":"Burned area (km² month⁻¹)","titleFontSize":13,"titlePadding":43}},
    "color":{"field":"s","type":"nominal","scale":{"domain":["H","O"],"range":["#231f20","#ef4123"]},
     "legend":{"title":null,"orient":"none","legendX":4,"legendY":90,"symbolSize":0,"symbolOpacity":0,"symbolStrokeWidth":0,"labelOffset":0,"labelFontSize":14,"labelFont":"Lato","rowPadding":5,"labelExpr":"datum.value == 'H' ? 'Historical' : 'Observation'","labelColor":{"expr":"datum.value == 'O' ? '#ef4123' : '#231f20'"}}}
   }}
 ],
 "resolve":{"scale":{"y":"independent"},"axis":{"x":"independent","y":"independent"}}
},
{
 "width":308,"height":306,
 "title":{"text":"b","dx":-12,"offset":-13},
 "layer":[
  {"data":{"name":"bandB"},"mark":{"type":"area","fill":"#8ed4df","interpolate":"monotone"},
   "encoding":{
    "x":{"field":"x","type":"quantitative","scale":{"type":"log","domain":[10,10000],"nice":false},
     "axis":{"orient":"bottom","values":[10,100,1000,10000],"format":"~g","tickSize":9,"labelPadding":6,"labelFontSize":14,"title":"Burned area (km² month⁻¹)","titleFontSize":13,"titlePadding":10}},
    "y":{"field":"pre","type":"quantitative","scale":{"domain":[-10,110],"nice":false,"zero":false},
     "axis":{"orient":"left","values":[-10,-5,0,5,10,15,20,25,30,35,40,45,50,55,60,65,70,75,80,85,90,95,100,105,110],"labelExpr":"(datum.value % 20 == 0 && datum.value >= 0 && datum.value <= 100) ? datum.label : ''","tickSize":{"condition":{"test":"datum.value % 20 == 0 && datum.value >= 0 && datum.value <= 100","value":9},"value":5},"labelPadding":8,"labelFontSize":14,"title":"Cumulative distribution function (CDF, %)","titleFontSize":12.5,"titlePadding":5}},
    "y2":{"field":"hd"}}},
  {"data":{"name":"bandB"},"mark":{"type":"line","stroke":"#2e3192","strokeDash":[3,2],"strokeWidth":1.2,"interpolate":"monotone"},
   "encoding":{"x":{"field":"x","type":"quantitative","axis":null},"y":{"field":"hd","type":"quantitative","axis":null}}},
  {"data":{"name":"bandB"},"mark":{"type":"line","stroke":"#2e3192","strokeWidth":1.5,"interpolate":"monotone"},
   "encoding":{"x":{"field":"x","type":"quantitative","axis":null},"y":{"field":"pre","type":"quantitative","axis":null}}},
  {"data":{"name":"cdfB"},"mark":{"type":"line","strokeWidth":1.5,"interpolate":"monotone"},
   "encoding":{"x":{"field":"x","type":"quantitative","axis":null},"y":{"field":"c","type":"quantitative","axis":null},
    "color":{"field":"k","type":"nominal","scale":{"domain":["Preindustrial","Historical (2003-2019)","Observation"],"range":["#2e3192","#231f20","#ef4123"]},
     "legend":{"title":null,"orient":"none","legendX":0,"legendY":30,"symbolSize":0,"symbolOpacity":0,"symbolStrokeWidth":0,"labelOffset":0,"labelFontSize":14,"labelFont":"Lato","rowPadding":5,"labelColor":{"expr":"datum.value == 'Observation' ? '#ef4123' : (datum.value == 'Preindustrial' ? '#2e3192' : '#231f20')"}}}}},
  {"data":{"name":"boxB"},"mark":{"type":"rect","fill":"transparent","stroke":"#2e3192","strokeWidth":2.5},
   "encoding":{
    "x":{"field":"lo","type":"quantitative","axis":{"orient":"top","values":[10,100,1000,10000],"labels":false,"tickSize":9,"title":null}},
    "x2":{"field":"hi"},
    "y":{"field":"q1","type":"quantitative","axis":{"orient":"right","values":[-10,-5,0,5,10,15,20,25,30,35,40,45,50,55,60,65,70,75,80,85,90,95,100,105,110],"labels":false,"title":null,"tickSize":{"condition":{"test":"datum.value % 20 == 0 && datum.value >= 0 && datum.value <= 100","value":9},"value":5}}},
    "y2":{"field":"q3"}}},
  {"data":{"name":"boxB"},"mark":{"type":"rule","stroke":"#2e3192","strokeWidth":2.5},
   "encoding":{"x":{"field":"lo","type":"quantitative","axis":null},"x2":{"field":"hi"},"y":{"field":"med","type":"quantitative","axis":null}}},
  {"data":{"name":"boxB"},"mark":{"type":"rule","stroke":"#2e3192","strokeWidth":2},
   "encoding":{"x":{"field":"w","type":"quantitative","axis":null},"y":{"field":"wlo","type":"quantitative","axis":null},"y2":{"field":"whi"}}},
  {"data":{"name":"boxB"},"mark":{"type":"rule","stroke":"#2e3192","strokeWidth":2},
   "encoding":{"x":{"field":"clo","type":"quantitative","axis":null},"x2":{"field":"chi"},"y":{"field":"whi","type":"quantitative","axis":null}}},
  {"data":{"name":"boxB"},"mark":{"type":"point","shape":"triangle-down","filled":true,"color":"#2e3192","size":35,"opacity":1},
   "encoding":{"x":{"field":"w","type":"quantitative","axis":null},"y":{"field":"wlo","type":"quantitative","axis":null}}},
  {"data":{"name":"boxB"},"mark":{"type":"rule","stroke":"#231f20","strokeWidth":2.5},
   "encoding":{"x":{"field":"ev","type":"quantitative","axis":null},"y":{"datum":-10,"type":"quantitative","axis":null},"y2":{"datum":-5.5}}},
  {"data":{"name":"rugB"},"transform":[{"filter":"datum.k == 'O'"}],"mark":{"type":"point","shape":"square","filled":true,"color":"#ef4123","size":4,"opacity":1,"clip":true},
   "encoding":{"x":{"field":"x","type":"quantitative","axis":null},"y":{"datum":-0.9,"type":"quantitative","axis":null}}},
  {"data":{"name":"rugB"},"transform":[{"filter":"datum.k == 'H'"}],"mark":{"type":"point","shape":"square","filled":true,"color":"#231f20","size":4,"opacity":1,"clip":true},
   "encoding":{"x":{"field":"x","type":"quantitative","axis":null},"y":{"datum":-2.3,"type":"quantitative","axis":null}}},
  {"data":{"name":"rugB"},"transform":[{"filter":"datum.k == 'P'"}],"mark":{"type":"point","shape":"square","filled":true,"color":"#2e3192","size":4,"opacity":1,"clip":true},
   "encoding":{"x":{"field":"x","type":"quantitative","axis":null},"y":{"datum":-4.3,"type":"quantitative","axis":null}}}
 ],
 "resolve":{"axis":{"x":"independent","y":"independent"}}
},
{
 "width":626,"height":313,
 "title":{"text":"c","dx":-16,"offset":-4},
 "layer":[
  {"data":{"name":"pc"},
   "mark":{"type":"point","shape":"circle","size":46,"filled":true,"stroke":"#bfbfbf","strokeWidth":1.2,"opacity":1},
   "encoding":{
    "x":{"field":"t","type":"quantitative","scale":{"domain":[1850,2020],"nice":false,"zero":false},
     "axis":{"orient":"top","values":[1850,1860,1870,1880,1890,1900,1910,1920,1930,1940,1950,1960,1970,1980,1990,2000,2010,2020],"labels":false,"title":null,"tickSize":{"condition":{"test":"datum.value % 30 == 0","value":15},"value":8}}},
    "y":{"field":"p","type":"quantitative","scale":{"domain":[80,100],"nice":false,"zero":false},
     "axis":{"orient":"right","values":[80,81,82,83,84,85,86,87,88,89,90,91,92,93,94,95,96,97,98,99,100],"labelExpr":"datum.value % 4 == 0 ? datum.label : ''","tickSize":{"condition":{"test":"datum.value % 4 == 0","value":16},"value":8},"labelPadding":13,"labelFontSize":19,"title":"Percentile of a 2019-like event","titleColor":"#a0a0a0","titleFontSize":12,"titleAngle":270,"titleBaseline":"top","titlePadding":8}},
    "fill":{"condition":{"test":"datum.f == 1","value":"#c6c6c6"},"value":"transparent"}
   }},
  {"data":{"name":"lc"},
   "mark":{"type":"line","strokeWidth":1.5,"clip":true},
   "encoding":{
    "x":{"field":"t","type":"quantitative","scale":{"domain":[1850,2020],"nice":false,"zero":false},
     "axis":{"orient":"bottom","values":[1850,1860,1870,1880,1890,1900,1910,1920,1930,1940,1950,1960,1970,1980,1990,2000,2010,2020],"format":"d","labelExpr":"datum.value % 30 == 0 ? datum.label : ''","tickSize":{"condition":{"test":"datum.value % 30 == 0","value":15},"value":8},"labelPadding":17,"labelFontSize":19,"title":null}},
    "y":{"field":"v","type":"quantitative","scale":{"domain":[0,3.5],"nice":false,"zero":false},
     "axis":{"orient":"left","values":[0,0.1,0.2,0.3,0.4,0.5,0.6,0.7,0.8,0.9,1,1.1,1.2,1.3,1.4,1.5,1.6,1.7,1.8,1.9,2,2.1,2.2,2.3,2.4,2.5,2.6,2.7,2.8,2.9,3,3.1,3.2,3.3,3.4,3.5],"format":".1f","labelExpr":"abs(datum.value*2 - round(datum.value*2)) < 0.001 ? datum.label : ''","tickSize":{"condition":{"test":"abs(datum.value*2 - round(datum.value*2)) < 0.001","value":15},"value":8},"labelPadding":16,"labelFontSize":19,"title":"Fire carbon emission (Tg C month⁻¹)","titleFontSize":13,"titlePadding":52}},
    "color":{"field":"s","type":"nominal","scale":{"domain":["H","O"],"range":["#231f20","#ef4123"]},"legend":null}
   }}
 ],
 "resolve":{"scale":{"y":"independent"},"axis":{"x":"independent","y":"independent"}}
},
{
 "width":308,"height":307,
 "title":{"text":"d","dx":-12,"offset":-2},
 "layer":[
  {"data":{"name":"bandD"},"mark":{"type":"area","fill":"#8ed4df","interpolate":"monotone"},
   "encoding":{
    "x":{"field":"x","type":"quantitative","scale":{"type":"log","domain":[0.01,10],"nice":false},
     "axis":{"orient":"bottom","values":[0.01,0.1,1,10],"format":"~g","tickSize":9,"labelPadding":6,"labelFontSize":14,"title":"Fire carbon emission (Tg C month⁻¹)","titleFontSize":13,"titlePadding":7}},
    "y":{"field":"pre","type":"quantitative","scale":{"domain":[-10,110],"nice":false,"zero":false},
     "axis":{"orient":"left","values":[-10,-5,0,5,10,15,20,25,30,35,40,45,50,55,60,65,70,75,80,85,90,95,100,105,110],"labelExpr":"(datum.value % 20 == 0 && datum.value >= 0 && datum.value <= 100) ? datum.label : ''","tickSize":{"condition":{"test":"datum.value % 20 == 0 && datum.value >= 0 && datum.value <= 100","value":9},"value":5},"labelPadding":8,"labelFontSize":14,"title":"Cumulative distribution function (CDF, %)","titleFontSize":12.5,"titlePadding":5}},
    "y2":{"field":"hd"}}},
  {"data":{"name":"bandD"},"mark":{"type":"line","stroke":"#2e3192","strokeDash":[3,2],"strokeWidth":1.2,"interpolate":"monotone"},
   "encoding":{"x":{"field":"x","type":"quantitative","axis":null},"y":{"field":"hd","type":"quantitative","axis":null}}},
  {"data":{"name":"bandD"},"mark":{"type":"line","stroke":"#2e3192","strokeWidth":1.5,"interpolate":"monotone"},
   "encoding":{"x":{"field":"x","type":"quantitative","axis":null},"y":{"field":"pre","type":"quantitative","axis":null}}},
  {"data":{"name":"cdfD"},"mark":{"type":"line","strokeWidth":1.5,"interpolate":"monotone"},
   "encoding":{"x":{"field":"x","type":"quantitative","axis":null},"y":{"field":"c","type":"quantitative","axis":null},
    "color":{"field":"k","type":"nominal","scale":{"domain":["Preindustrial","Historical (2003-2019)","Observation"],"range":["#2e3192","#231f20","#ef4123"]},"legend":null}}},
  {"data":{"name":"boxD"},"mark":{"type":"rect","fill":"transparent","stroke":"#2e3192","strokeWidth":2.5},
   "encoding":{
    "x":{"field":"lo","type":"quantitative","axis":{"orient":"top","values":[0.01,0.1,1,10],"labels":false,"tickSize":9,"title":null}},
    "x2":{"field":"hi"},
    "y":{"field":"q1","type":"quantitative","axis":{"orient":"right","values":[-10,-5,0,5,10,15,20,25,30,35,40,45,50,55,60,65,70,75,80,85,90,95,100,105,110],"labels":false,"title":null,"tickSize":{"condition":{"test":"datum.value % 20 == 0 && datum.value >= 0 && datum.value <= 100","value":9},"value":5}}},
    "y2":{"field":"q3"}}},
  {"data":{"name":"boxD"},"mark":{"type":"rule","stroke":"#2e3192","strokeWidth":2.5},
   "encoding":{"x":{"field":"lo","type":"quantitative","axis":null},"x2":{"field":"hi"},"y":{"field":"med","type":"quantitative","axis":null}}},
  {"data":{"name":"boxD"},"mark":{"type":"rule","stroke":"#2e3192","strokeWidth":2},
   "encoding":{"x":{"field":"w","type":"quantitative","axis":null},"y":{"field":"wlo","type":"quantitative","axis":null},"y2":{"field":"whi"}}},
  {"data":{"name":"boxD"},"mark":{"type":"rule","stroke":"#2e3192","strokeWidth":2},
   "encoding":{"x":{"field":"clo","type":"quantitative","axis":null},"x2":{"field":"chi"},"y":{"field":"whi","type":"quantitative","axis":null}}},
  {"data":{"name":"boxD"},"mark":{"type":"point","shape":"triangle-down","filled":true,"color":"#2e3192","size":35,"opacity":1},
   "encoding":{"x":{"field":"w","type":"quantitative","axis":null},"y":{"field":"wlo","type":"quantitative","axis":null}}},
  {"data":{"name":"boxD"},"mark":{"type":"rule","stroke":"#231f20","strokeWidth":2.5},
   "encoding":{"x":{"field":"ev","type":"quantitative","axis":null},"y":{"datum":-10,"type":"quantitative","axis":null},"y2":{"datum":-5.5}}},
  {"data":{"name":"rugD"},"transform":[{"filter":"datum.k == 'O' && datum.x >= 0.01"}],"mark":{"type":"point","shape":"square","filled":true,"color":"#ef4123","size":4,"opacity":1,"clip":true},
   "encoding":{"x":{"field":"x","type":"quantitative","axis":null},"y":{"datum":-0.8,"type":"quantitative","axis":null}}},
  {"data":{"name":"rugD"},"transform":[{"filter":"datum.k == 'H'"}],"mark":{"type":"point","shape":"square","filled":true,"color":"#231f20","size":4,"opacity":1,"clip":true},
   "encoding":{"x":{"field":"x","type":"quantitative","axis":null},"y":{"datum":-2.1,"type":"quantitative","axis":null}}},
  {"data":{"name":"rugD"},"transform":[{"filter":"datum.k == 'P'"}],"mark":{"type":"point","shape":"square","filled":true,"color":"#2e3192","size":4,"opacity":1,"clip":true},
   "encoding":{"x":{"field":"x","type":"quantitative","axis":null},"y":{"datum":-4.2,"type":"quantitative","axis":null}}}
 ],
 "resolve":{"axis":{"x":"independent","y":"independent"}}
}
]
}
